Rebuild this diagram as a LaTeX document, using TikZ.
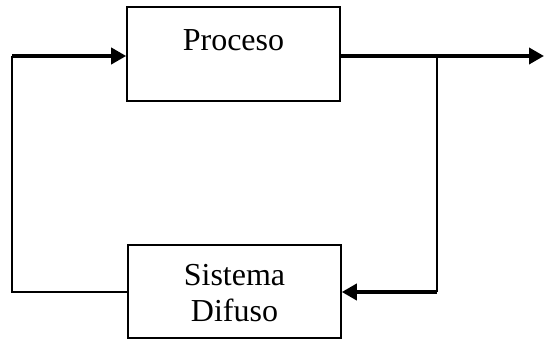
\documentclass[tikz,border=0pt]{standalone}
\usepackage{fontspec}
\setmainfont{Liberation Serif}
\usetikzlibrary{arrows.meta, positioning}

\begin{document}
\begin{tikzpicture}[
  x=1pt, y=1pt,
  every node/.style={font=\fontsize{32}{36}\selectfont},
  block/.style={draw, line width=1.6pt, text width=213pt, align=center, inner xsep=0pt, inner ysep=0pt},
  link/.style={draw, line width=2.2pt},
  signal/.style={draw, line width=3.6pt, -{Triangle[length=15pt, width=16pt]}},
]
  \useasboundingbox (0,0) rectangle (544,339);

  % the two blocks
  \node[block, text height=44pt, text depth=50pt] (proc) at (233.5,285) {Proceso};
  \node[block, text height=41pt, text depth=52pt] (fuzzy) at (234.5,47.5) {Sistema\\Difuso};

  % corners of the loop
  \coordinate (corner) at (12,283);
  \coordinate (split) at (437,283);
  \coordinate (turn) at (437,47);
  \coordinate (out) at (544,283);

  % forward path
  \draw[link] (fuzzy.west |- turn) -| (corner);
  \draw[signal] (corner) -- (corner -| proc.west);
  \draw[signal] (proc.east |- split) -- (out);

  % feedback
  \draw[link] (split) -- (turn);
  \draw[signal] (turn) -- (fuzzy.east |- turn);
\end{tikzpicture}
\end{document}
